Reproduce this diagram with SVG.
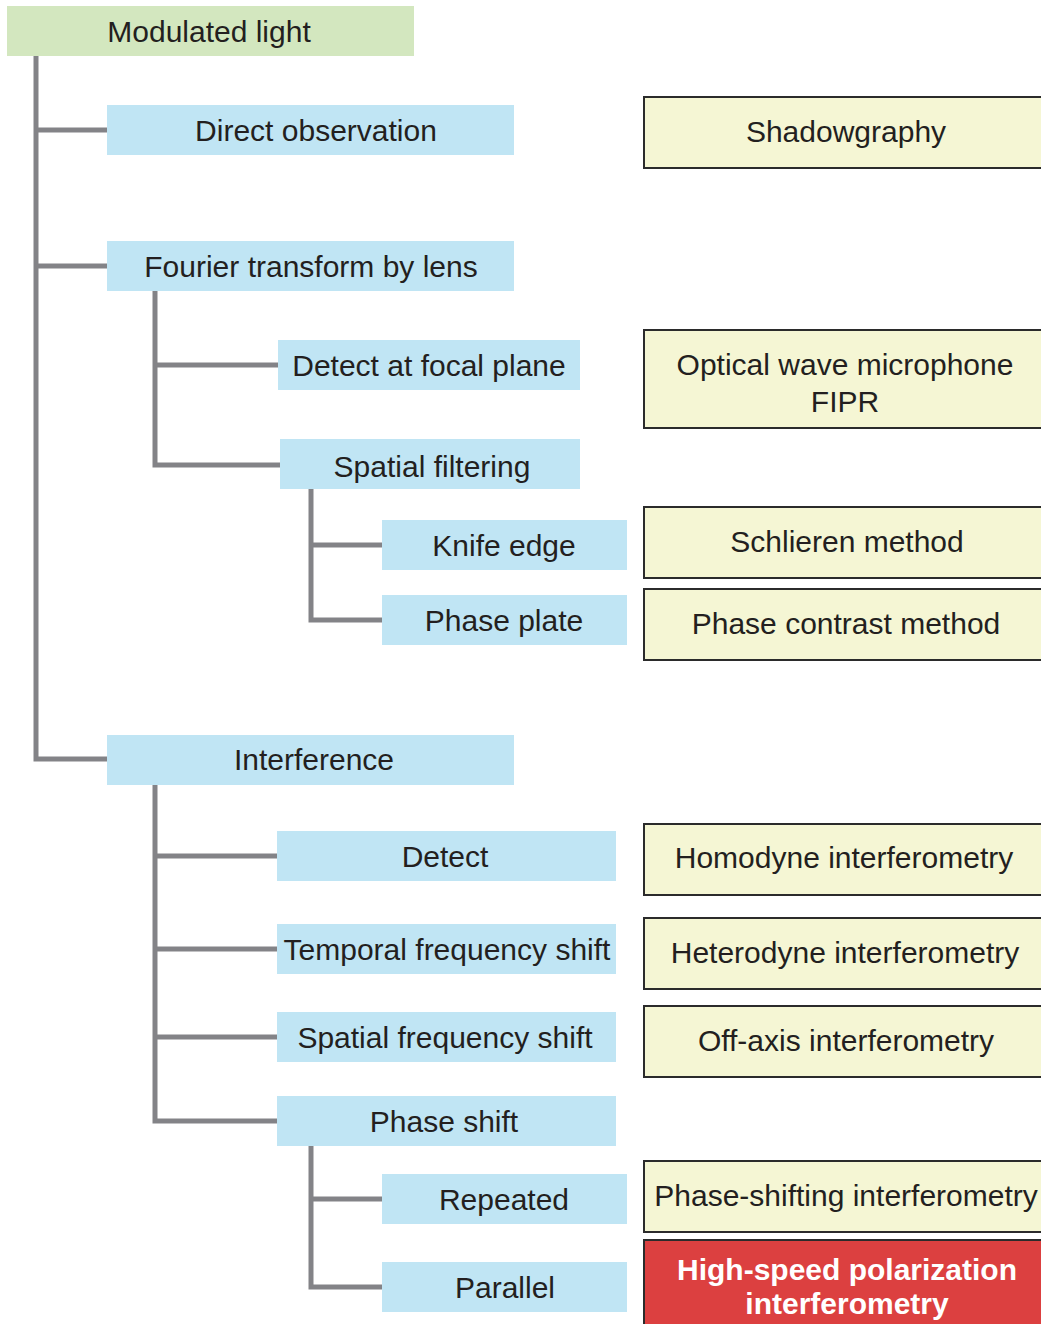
<svg xmlns="http://www.w3.org/2000/svg" width="1041" height="1324" viewBox="0 0 1041 1324">
<style>
text{font-family:"Liberation Sans",Arial,sans-serif;font-size:30px;fill:#231f20;text-anchor:middle}
.root{fill:#d3e7bf}
.cat{fill:#c0e5f4}
.res{fill:#f5f6d4;stroke:#2b2b2b;stroke-width:2}
.hl{fill:#dc4040;stroke:#2b2b2b;stroke-width:2}
.hlt{fill:#ffffff;font-weight:bold}
.conn{fill:none;stroke:#838387;stroke-width:5}
</style>
<rect width="1041" height="1324" fill="#ffffff"/>
<g id="connectors">
<path class="conn" d="M36,56 V759 H107"/>
<path class="conn" d="M36,130 H107"/>
<path class="conn" d="M36,266 H107"/>
<path class="conn" d="M155,291 V465 H280"/>
<path class="conn" d="M155,365 H278"/>
<path class="conn" d="M311,489 V620 H382"/>
<path class="conn" d="M311,545 H382"/>
<path class="conn" d="M155,785 V1121 H277"/>
<path class="conn" d="M155,856 H277"/>
<path class="conn" d="M155,949 H277"/>
<path class="conn" d="M155,1037 H277"/>
<path class="conn" d="M311,1146 V1287 H382"/>
<path class="conn" d="M311,1199 H382"/>
</g>
<g id="modulated-light"><rect class="root" x="7" y="6" width="407" height="50"/><text x="209" y="42">Modulated light</text></g>
<g id="direct-observation"><rect class="cat" x="107" y="105" width="407" height="50"/><text x="316" y="141">Direct observation</text></g>
<g id="fourier-transform"><rect class="cat" x="107" y="241" width="407" height="50"/><text x="311" y="277">Fourier transform by lens</text></g>
<g id="detect-focal"><rect class="cat" x="278" y="340" width="302" height="50"/><text x="429" y="376">Detect at focal plane</text></g>
<g id="spatial-filtering"><rect class="cat" x="280" y="439" width="300" height="50"/><text x="432" y="477">Spatial filtering</text></g>
<g id="knife-edge"><rect class="cat" x="382" y="520" width="245" height="50"/><text x="504" y="556">Knife edge</text></g>
<g id="phase-plate"><rect class="cat" x="382" y="595" width="245" height="50"/><text x="504" y="631">Phase plate</text></g>
<g id="interference"><rect class="cat" x="107" y="735" width="407" height="50"/><text x="314" y="770">Interference</text></g>
<g id="detect"><rect class="cat" x="277" y="831" width="339" height="50"/><text x="445" y="867">Detect</text></g>
<g id="temporal-shift"><rect class="cat" x="277" y="924" width="339" height="50"/><text x="447" y="960">Temporal frequency shift</text></g>
<g id="spatial-shift"><rect class="cat" x="277" y="1012" width="339" height="50"/><text x="445" y="1048">Spatial frequency shift</text></g>
<g id="phase-shift"><rect class="cat" x="277" y="1096" width="339" height="50"/><text x="444" y="1132">Phase shift</text></g>
<g id="repeated"><rect class="cat" x="382" y="1174" width="245" height="50"/><text x="504" y="1210">Repeated</text></g>
<g id="parallel"><rect class="cat" x="382" y="1262" width="245" height="50"/><text x="505" y="1298">Parallel</text></g>
<g id="shadowgraphy"><rect class="res" x="644" y="97" width="410" height="71"/><text x="846" y="142">Shadowgraphy</text></g>
<g id="optical-wave"><rect class="res" x="644" y="330" width="410" height="98"/><text x="845" y="375">Optical wave microphone</text><text x="845" y="412">FIPR</text></g>
<g id="schlieren"><rect class="res" x="644" y="507" width="410" height="71"/><text x="847" y="552">Schlieren method</text></g>
<g id="phase-contrast"><rect class="res" x="644" y="589" width="410" height="71"/><text x="846" y="634">Phase contrast method</text></g>
<g id="homodyne"><rect class="res" x="644" y="824" width="410" height="71"/><text x="844" y="868">Homodyne interferometry</text></g>
<g id="heterodyne"><rect class="res" x="644" y="918" width="410" height="71"/><text x="845" y="963">Heterodyne interferometry</text></g>
<g id="off-axis"><rect class="res" x="644" y="1006" width="410" height="71"/><text x="846" y="1051">Off-axis interferometry</text></g>
<g id="phase-shifting"><rect class="res" x="644" y="1161" width="410" height="71"/><text x="846" y="1206">Phase-shifting interferometry</text></g>
<g id="high-speed"><rect class="hl" x="644" y="1240" width="410" height="100"/><text class="hlt" x="847" y="1280">High-speed polarization</text><text class="hlt" x="847" y="1314">interferometry</text></g>
</svg>
